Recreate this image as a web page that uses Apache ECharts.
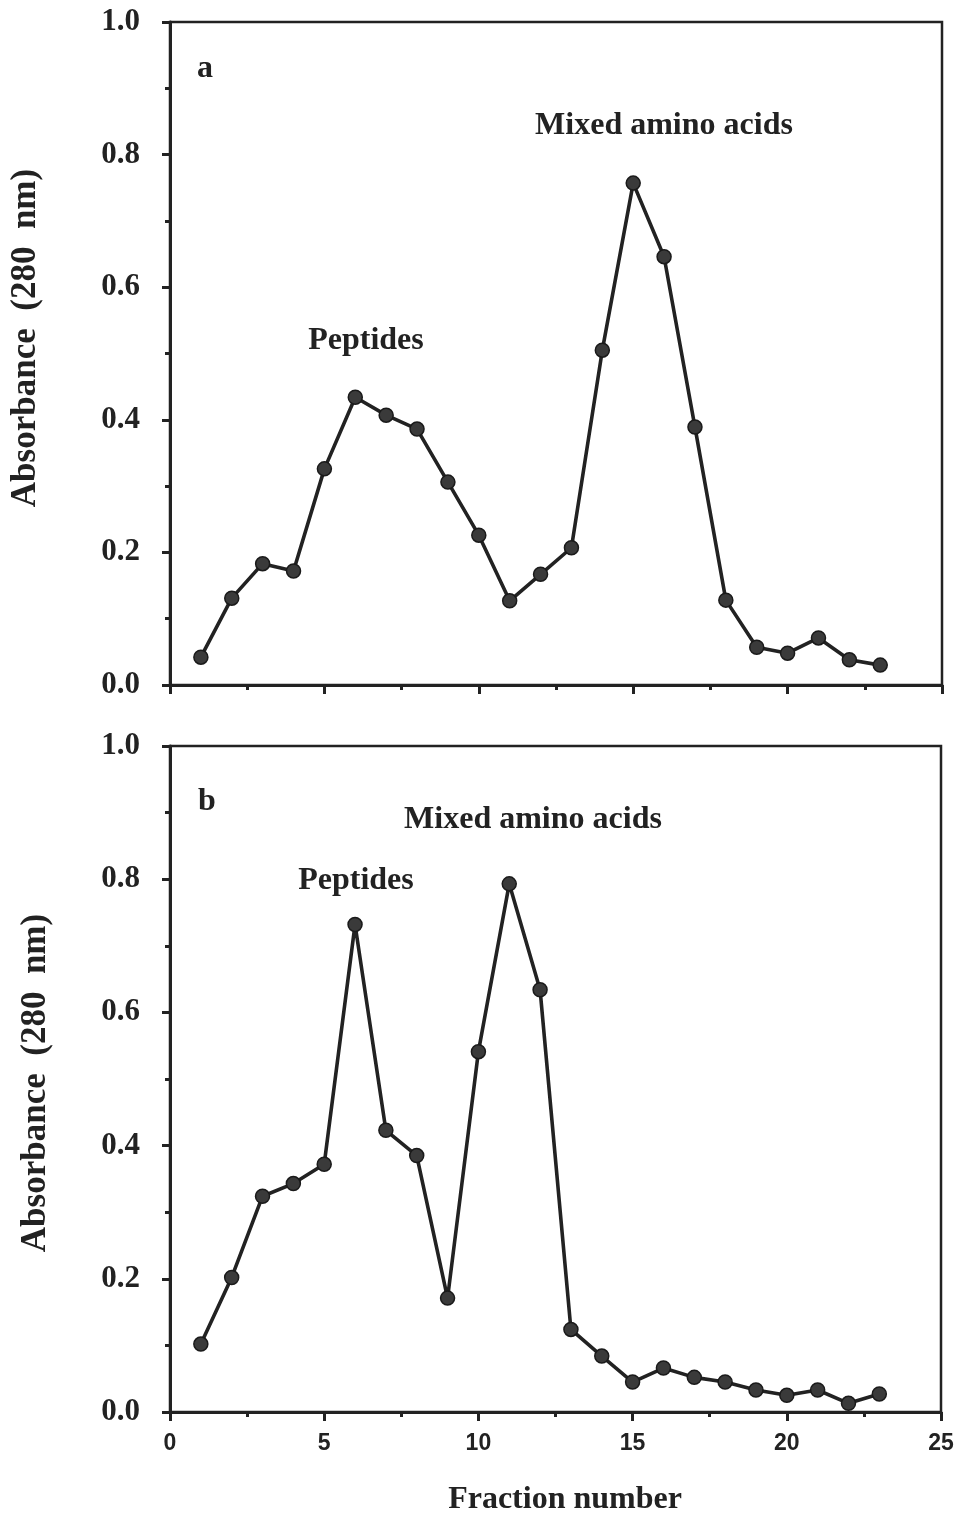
<!DOCTYPE html>
<html>
<head>
<meta charset="utf-8">
<script src="https://cdn.jsdelivr.net/npm/echarts@6/dist/echarts.min.js"></script>
<style>html,body{margin:0;padding:0;background:#fff}#c{width:957px;height:1518px}</style>
</head>
<body>
<div id="c"></div>
<script>
var fractions = [1,2,3,4,5,6,7,8,9,10,11,12,13,14,15,16,17,18,19,20,21,22,23];
var absorbanceA = [0.042,0.131,0.183,0.172,0.326,0.434,0.407,0.386,0.306,0.226,0.127,0.167,0.207,0.505,0.757,0.646,0.389,0.128,0.057,0.048,0.071,0.038,0.030];
var absorbanceB = [0.102,0.202,0.324,0.343,0.372,0.732,0.423,0.385,0.171,0.541,0.793,0.634,0.124,0.084,0.045,0.066,0.052,0.045,0.033,0.025,0.033,0.013,0.027];
var xTicks = [0,5,10,15,20,25];
var yTicks = [0.0,0.2,0.4,0.6,0.8,1.0];

var INK = '#222';
var serif = 'Liberation Serif';

function pairs(xs, ys){ return xs.map(function(x,i){return [x, ys[i]];}); }

function xAxisCfg(idx, showLabels){
  return {
    type:'value', gridIndex:idx, min:xTicks[0], max:xTicks[xTicks.length-1], interval:5,
    axisLine:{show:true, onZero:false, lineStyle:{color:INK, width:3}},
    axisTick:{show:true, inside:false, length:9, lineStyle:{color:INK, width:3}},
    minorTick:{show:true, splitNumber:2, length:5, lineStyle:{color:INK, width:3}},
    splitLine:{show:false},
    axisLabel:{show:showLabels, margin:20, color:INK, fontFamily:'Liberation Sans', fontWeight:'bold', fontSize:23}
  };
}
function yAxisCfg(idx){
  return {
    type:'value', gridIndex:idx, min:yTicks[0], max:yTicks[yTicks.length-1], interval:0.2,
    axisLine:{show:true, onZero:false, lineStyle:{color:INK, width:3}},
    axisTick:{show:true, inside:false, length:8, lineStyle:{color:INK, width:3}},
    minorTick:{show:true, splitNumber:2, length:5, lineStyle:{color:INK, width:3}},
    splitLine:{show:false},
    axisLabel:{margin:30, color:INK, fontFamily:serif, fontWeight:'bold', fontSize:31,
      formatter:function(v){return v.toFixed(1);}}
  };
}
function seriesCfg(idx, ys){
  return {
    type:'line', xAxisIndex:idx, yAxisIndex:idx, data:pairs(fractions, ys),
    symbol:'circle', symbolSize:14, showSymbol:true,
    lineStyle:{color:INK, width:3.6},
    itemStyle:{color:'#3a3a3a', borderColor:'#1a1a1a', borderWidth:1.5},
    animation:false
  };
}
function label(text, x, y, size, align, rot){
  return {type:'text', x:x, y:y, rotation:rot||0,
    style:{text:text, fill:INK, font:'bold '+size+'px "'+serif+'"', textAlign:align||'center', textVerticalAlign:'middle'}};
}

var option = {
  backgroundColor:'#fff',
  animation:false,
  grid:[
    {left:170, right:15, top:22, height:663, show:true, borderColor:INK, borderWidth:2.5, backgroundColor:'transparent'},
    {left:170, right:16, top:746, height:666, show:true, borderColor:INK, borderWidth:2.5, backgroundColor:'transparent'}
  ],
  xAxis:[xAxisCfg(0,false), xAxisCfg(1,true)],
  yAxis:[yAxisCfg(0), yAxisCfg(1)],
  series:[seriesCfg(0, absorbanceA), seriesCfg(1, absorbanceB)],
  graphic:[
    label('a', 197, 69, 32, 'left'),
    label('Peptides', 366, 341, 32),
    label('Mixed amino acids', 664, 126, 32),
    label('b', 198, 802, 32, 'left'),
    label('Mixed amino acids', 533, 820, 32),
    label('Peptides', 356, 881, 32),
    label('Absorbance  (280  nm)', 26, 338, 35, 'center', Math.PI/2),
    label('Absorbance  (280  nm)', 36, 1083, 35, 'center', Math.PI/2),
    label('Fraction number', 565, 1500, 32)
  ]
};
var chart = echarts.init(document.getElementById('c'), null, {renderer:'canvas'});
chart.setOption(option);
</script>
</body>
</html>
